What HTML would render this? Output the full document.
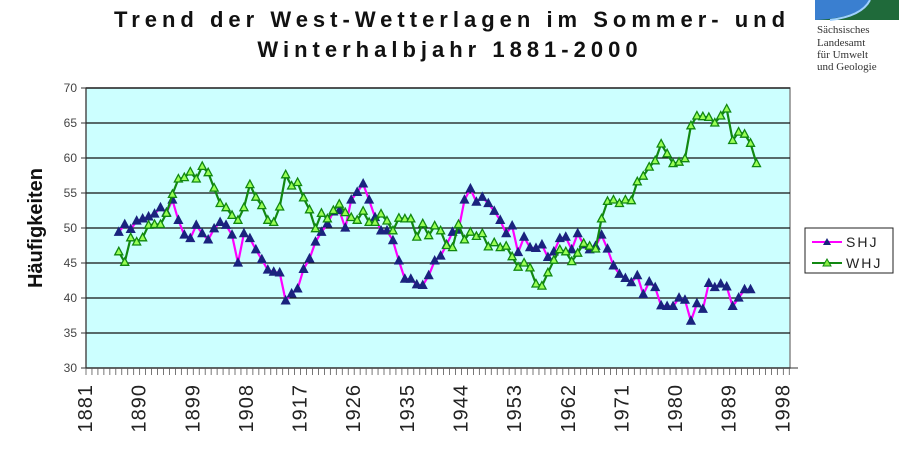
<!DOCTYPE html>
<html><head><meta charset="utf-8"><style>
body{margin:0;background:#fff;width:904px;height:449px;overflow:hidden;font-family:"Liberation Sans",sans-serif}
</style></head><body>
<svg id="c" width="904" height="449" xmlns="http://www.w3.org/2000/svg">
<text x="452" y="27" text-anchor="middle" font-size="22" font-weight="bold" letter-spacing="5" fill="#111">Trend der West-Wetterlagen im Sommer- und</text>
<text x="450" y="57" text-anchor="middle" font-size="22" font-weight="bold" letter-spacing="5" fill="#111">Winterhalbjahr 1881-2000</text>
<g>
<rect x="815" y="0" width="84" height="20" fill="#1f6a3a"/>
<path d="M815 0 H870 Q860 18 815 20 Z" fill="#3a7fd0"/>
<path d="M870 0 Q862 16 830 20" stroke="#9fd0ff" stroke-width="2" fill="none"/>
<g font-family="Liberation Serif,serif" font-size="11" fill="#333">
<text x="817" y="33">Sächsisches</text><text x="817" y="46">Landesamt</text><text x="817" y="58">für Umwelt</text><text x="817" y="70">und Geologie</text></g>
</g>
<text transform="translate(42,228) rotate(-90)" text-anchor="middle" font-size="20" font-weight="bold" fill="#111">Häufigkeiten</text>
<g id="plot"></g>
<g>
<rect x="805" y="228" width="88" height="45" fill="#fff" stroke="#222"/>
<line x1="812" y1="242" x2="842" y2="242" stroke="#ff00ff" stroke-width="2"/>
<polygon points="827,238 823,245 831,245" fill="#1a237e"/>
<text x="846" y="247" font-size="14" letter-spacing="2" fill="#222">SHJ</text>
<line x1="812" y1="263" x2="842" y2="263" stroke="#118811" stroke-width="2"/>
<polygon points="827,259 823,266 831,266" fill="#88ee44" stroke="#118811"/>
<text x="846" y="268" font-size="14" letter-spacing="2" fill="#222">WHJ</text>
</g>
</svg>
<script>
const startYear = 1886;
const shjValues = [49.4,50.5,49.8,51,51.3,51.6,52,52.9,52.2,54,51.1,49,48.5,50.4,49.2,48.3,49.9,50.8,50.4,49,45,49.2,48.5,46.9,45.5,44,43.7,43.6,
39.6,40.6,41.3,44.1,45.6,48,49.4,50.6,52.3,52.5,50,54,55.1,56.3,54,51.5,49.6,49.6,48.2,45.3,42.7,42.7,41.9,41.8,43.2,45.3,46,
47.6,49.4,49.7,54,55.6,53.7,54.4,53.5,52.4,51.1,49.2,50.3,46.5,48.7,47.2,47.1,47.6,45.8,46.6,48.5,48.7,46.9,49.2,47.6,
46.9,47.4,49,47,44.6,43.4,42.8,42.2,43.2,40.5,42.3,41.5,38.9,38.8,38.8,40,39.7,36.7,39.2,38.4,42.1,41.5,42,41.6,38.8,40,41.2,41.2];
const whjValues = [46.6,45.1,48.6,48,48.6,50.4,50.5,50.5,52.1,54.8,57,57.2,58,57,58.8,57.9,55.7,53.5,52.9,51.8,51.1,52.9,56.2,54.4,53.2,51.1,50.8,53,
57.6,56,56.5,54.3,52.6,49.9,52.1,51.3,52.5,53.4,52.2,51.5,51.1,52.4,50.8,50.8,52,51,49.6,51.4,51.3,51.3,48.7,50.6,48.9,50.3,49.6,47.5,
47.2,50.5,48.3,49.4,48.8,49.2,47.3,47.9,47.2,47.4,45.9,44.4,45,44.3,42,41.7,43.6,45.4,46.9,46.6,45.2,46.4,47.8,47.4,47,
51.3,53.8,54,53.5,54,53.9,56.6,57.4,58.7,59.6,62,60.6,59.2,59.4,59.9,64.6,66,65.9,65.8,65,66,67,62.5,63.7,63.4,62.1,59.2];
const yTicks = [30,35,40,45,50,55,60,65,70];
const xLabels = [1881,1890,1899,1908,1917,1926,1935,1944,1953,1962,1971,1980,1989,1998];

const NS="http://www.w3.org/2000/svg";
const L=86,R=790,T=88,B=368,YW=5.96;
const yS=v=>B-(v-30)*(B-T)/40;
const xEdge=yr=>L+(yr-1881)*YW;
const xS=yr=>xEdge(yr)+YW*0.5;
const g=document.getElementById('plot');
function mk(tag,at,parent){const e=document.createElementNS(NS,tag);for(const k in at)e.setAttribute(k,at[k]);(parent||g).appendChild(e);return e;}
const bg=mk('rect',{x:L,y:T,width:R-L,height:B-T,fill:'#ccffff',stroke:'#888','stroke-width':1.5});


yTicks.forEach(v=>{
  const gl=mk('line',{x1:L,x2:R,y1:yS(v),y2:yS(v),stroke:'#111','stroke-width':1.3});
  
  
  mk('line',{x1:L-5,x2:L,y1:yS(v),y2:yS(v),stroke:'#333'});
  const t=mk('text',{x:L-9,y:yS(v)+4,'text-anchor':'end','font-size':12,fill:'#444'});
  t.textContent=v;
  
  
});
mk('line',{x1:L,x2:L,y1:T,y2:B,stroke:'#333'});
mk('line',{x1:L,x2:R+8,y1:B,y2:B,stroke:'#333'});
for(let yr=1881;yr<=1999;yr++){mk('line',{x1:xEdge(yr),x2:xEdge(yr),y1:B,y2:B+7,stroke:'#555','stroke-width':0.8});}
xLabels.forEach(yr=>{
  const x=xEdge(yr)-1;
  const t=mk('text',{transform:`translate(${x+7},384) rotate(-90)`,'text-anchor':'end','font-size':20,fill:'#222','letter-spacing':'1'});
  t.textContent=yr;
  
  
});
function series(vals,color,fill,stroke,name){
  const pts=vals.map((v,i)=>xS(startYear+i).toFixed(1)+','+yS(v).toFixed(1)).join(' ');
  const pl=mk('polyline',{points:pts,fill:'none',stroke:color,'stroke-width':2.2});
  
  
  vals.forEach((v,i)=>{
    const x=xS(startYear+i),y=yS(v);
    const m=mk('polygon',{points:`${x},${y-4.5} ${x-4},${y+3} ${x+4},${y+3}`,fill:fill,stroke:stroke,'stroke-width':1.3});
    
    
  });
}
series(shjValues,'#ff00ff','#1a237e','#1a237e','shj');
series(whjValues,'#118811','#99ff55','#118811','whj');
</script>
</body></html>
